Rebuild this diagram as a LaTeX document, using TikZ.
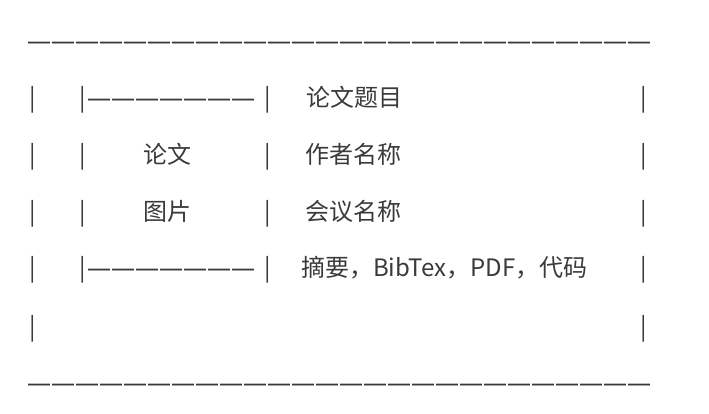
\documentclass[tikz,border=0pt]{standalone}
\usepackage{fontspec}
\setmainfont{Noto Sans CJK SC}
\newfontfamily\dashfont{Open Sans}
\usetikzlibrary{positioning}
\definecolor{ink}{HTML}{3A3A3A}

\begin{document}
\begin{tikzpicture}[x=1pt,y=-1pt,
    txt/.style={anchor=base west,inner sep=0pt,text=ink,font=\fontsize{24}{24}\selectfont},
    rule/.style={txt,font=\fontsize{24}{24}\dashfont}]
  \useasboundingbox (0,0) rectangle (709,413);
  % outer dash lines
  \node[rule] (top) at (27,49) {——————————————————————————};
  \node[rule] (bottom) at (27,391) {——————————————————————————};
  % left bars, one per row
  \foreach \r/\y in {1/106,2/163,3/220,4/276,5/335}{
    \node[txt] (lb\r) at (29,\y) {|};
  }
  % inner left bars
  \foreach \r/\y in {1/106,2/163,3/220,4/276}{
    \node[txt] (ib\r) at (79,\y) {|};
  }
  % middle bars
  \foreach \r/\y in {1/106,2/163,3/220,4/276}{
    \node[txt] (mb\r) at (264,\y) {|};
  }
  % right bars
  \foreach \r/\y in {1/106,2/163,3/220,4/276,5/335}{
    \node[txt] (rb\r) at (640,\y) {|};
  }
  % picture box edges
  \node[rule] (dash1) at (87,106) {———————};
  \node[rule] (dash4) at (87,276) {———————};
  \node[txt] (pic1) at (143,163) {论文};
  \node[txt] (pic2) at (143,220) {图片};
  % info column
  \node[txt] (title) at (306,106) {论文题目};
  \node[txt] (author) at (305,163) {作者名称};
  \node[txt] (venue) at (305,220) {会议名称};
  \node[txt] (links) at (301,276) {摘要，BibTex，PDF，代码};
\end{tikzpicture}
\end{document}
